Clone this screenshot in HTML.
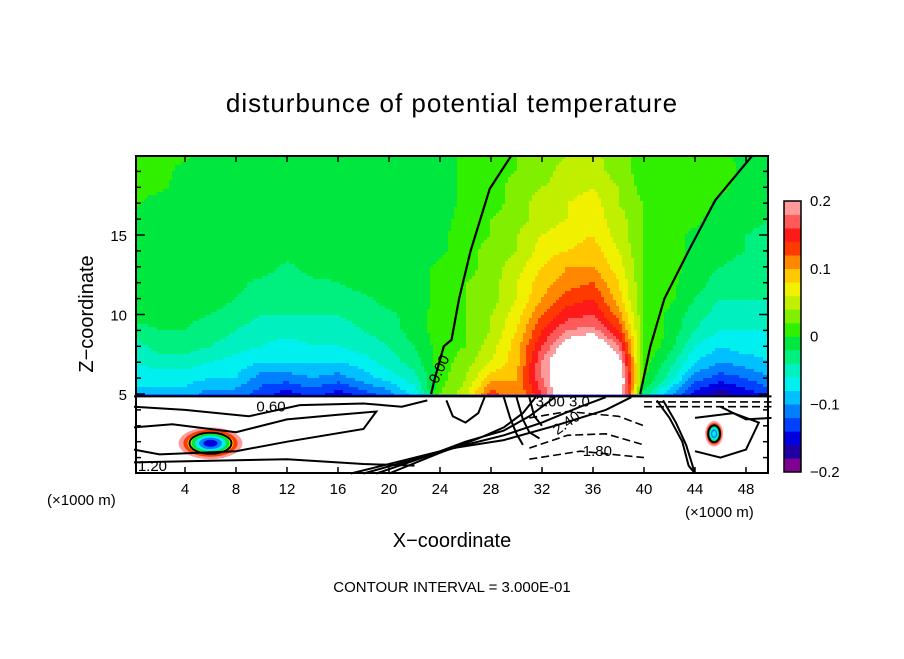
<!DOCTYPE html>
<html><head><meta charset="utf-8"><style>
html,body{margin:0;padding:0;background:#fff;}
body{width:904px;height:654px;overflow:hidden;font-family:"Liberation Sans",sans-serif;}
</style></head><body>
<svg id="chart" width="904" height="654" viewBox="0 0 904 654" xmlns="http://www.w3.org/2000/svg">
<rect x="0" y="0" width="904" height="654" fill="#fff"/>
<text x="452" y="112" text-anchor="middle" font-size="26" font-family="Liberation Sans, sans-serif" letter-spacing="1">disturbunce of potential temperature</text>
<g id="field"></g>
<g id="lower"></g>
<g id="axes"></g>
<g id="cbar"></g>
<text transform="translate(93,314) rotate(-90)" text-anchor="middle" font-size="20">Z−coordinate</text>
<text x="452" y="547" text-anchor="middle" font-size="20">X−coordinate</text>
<text x="47" y="505" font-size="15">(×1000 m)</text>
<text x="685" y="517" font-size="15">(×1000 m)</text>
<text x="452" y="592" text-anchor="middle" font-size="15">CONTOUR INTERVAL = 3.000E-01</text>
</svg>
<script>
// ---- data ----
const xCats = [0,2,4,6,8,10,12,14,16,18,20,22,24,26,28,30,32,34,36,38,40,42,44,46,48,50];
const zLevels = [5,6,7,8,9,10,11,12,13,14,15,16,17,18,19,20];
// values in units of 0.01 K, one array per x column (z=5..20)
const col0  = [-9,-7,-6,-5,-3,-1,-1,-1,-1,-1,-1,-1,0.5,0.5,1,1];
const col2  = [-9,-7,-5,-3,-2,-1,-1,-1,-1,-1,-1,-1,-1,0.5,1,1];
const col4  = [-9,-7,-5,-3,-2,-1.5,-1,-1,-1,-1,-1,-1,-1,-1,-1,0.5];
const col6  = [-11,-8,-6,-4,-3,-2,-1,-1,-1,-1,-1,-1,-1,-1,-1,-1];
const col8  = [-11,-8,-7,-5,-4,-3,-2,-1.5,-1,-1,-1,-1,-1,-1,-1,-1];
const col10 = [-13,-11,-8,-6,-5,-4,-3,-2.5,-1,-1,-1,-1,-1,-1,-1,-1];
const col12 = [-15,-11,-8,-7,-5,-4,-3,-3,-2.5,-1,-1,-1,-1,-1,-1,-1];
const col14 = [-13,-10,-8,-6,-5,-4,-3,-2.5,-1,-1,-1,-1,-1,-1,-1,-1];
const col16 = [-15,-11,-8,-6,-5,-4,-3,-2,-1,-1,-1,-1,-1,-1,-1,-1];
const col18 = [-13,-9,-7,-5,-4,-3,-2.5,-1,-1,-1,-1,-1,-1,-1,-1,-1];
const col20 = [-11,-7,-5,-4,-3,-2.5,-1,-1,-1,-1,-1,-1,-1,-1,-1,-1];
const col22 = [-7,-5,-3,-2,-1,-1,-1,-1,-1,-1,-1,-1,-1,-1,-1,-1];
const col24 = [2,1,1,1,1,1,0.5,0.5,0.5,-0.5,-0.5,-1,-1,-1,-1,-1];
const col26 = [5,4,3,2,2,2,2,2,1,1,1,1,0.5,0.5,0.5,0.5];
const col28 = [13,9,6,5,4,4,3,3,3,3,2,2,1,1,1,1];
const col30 = [10,10,9,9,8,7,6,6,5,4,4,3,3,3,2,2];
const col32 = [16,18,18,16,14,12,10,9,8,7,6,5,5,4,3,3];
const col34 = [25,25,25,22,18,15,13,11,10,8,7,6,6,5,5,4];
const col36 = [25,25,25,24,19,16,14,12,10,9,8,7,7,6,5,4.5];
const col38 = [25,25,22,18,14,11,9,8,7,6,5,5,4,4,3,3];
const col40 = [-3,0.5,1,2,2,2,2,2,2,2,2,2,2,1,1,1];
const col42 = [-9,-5,-3,-1,-0.5,-0.5,0.5,0.5,1,1,1,1,1,1,1,1];
const col44 = [-15,-11,-8,-6,-4,-3,-2,-1,-1,-0.5,-0.5,0.5,1,1,1,1];
const col46 = [-17,-13,-10,-8,-6,-5,-4,-3,-2,-1,-1,-1,-0.5,0.5,1,1];
const col48 = [-15,-12,-9,-7,-6,-5,-4,-3,-3,-2,-2,-1,-1,-1,-0.5,-1];
const col50 = [-13,-10,-8,-7,-6,-5,-4,-3,-3,-3,-3,-2,-2,-1,-1,-1];
const columns = [col0,col2,col4,col6,col8,col10,col12,col14,col16,col18,col20,col22,col24,col26,col28,col30,col32,col34,col36,col38,col40,col42,col44,col46,col48,col50];
const bandColors = ["#800090","#2000a0","#0000e0","#0040ff","#0080ff","#00c0ff","#00f0f0","#00f0c0","#00f080","#00e840","#30f000","#80f000","#c0f000","#f0f000","#ffc800","#ff8800","#ff3a00","#ff1a1a","#ff5a5a","#ff9a9a"];
const cbarTicks = [0.2,0.1,0,-0.1,-0.2];
const cbarTickLabels = ["0.2","0.1","0","−0.1","−0.2"];
const xTicks = [4,8,12,16,20,24,28,32,36,40,44,48];
const yTicks = [5,10,15];
// lower region contour lines (x km, z km)
const lineBoundary = [[0,4.85],[50,4.85]];
const line060 = [[0,2.9],[3,3.1],[8,2.6],[12,3.4],[16,3.7],[19,3.9],[18,2.8],[12,2.0],[8,1.4],[2,1.2],[0,1.5]];
const line060b = [[0,4.2],[4,4.0],[9,3.6],[13,4.3],[18,4.4],[21,4.2],[23,4.6]];
const line120 = [[0,0.7],[6,0.8],[12,0.9],[18,0.6],[22,0.5]];
const lineArc1 = [[17,0],[21,0.8],[25,1.6],[29,2.1],[33,3.0],[37,4.0],[39,4.8]];
const lineArc2 = [[18,0],[22,0.9],[26,1.8],[29,2.4],[32,3.2],[35,4.2],[37,4.8]];
const lineArc3 = [[19,0],[23,1.1],[26,2.0],[29,2.7],[31,3.6],[33,4.8]];
const lineArc4 = [[20,0],[24,1.3],[27,2.2],[29,2.9],[30.5,3.8],[31.5,4.8]];
const lineBunch1 = [[29,4.8],[29.5,3.5],[30,2.5],[30.5,1.8]];
const lineBunch2 = [[30,4.8],[30.5,3.4],[31,2.6],[31.8,2.2]];
const lineBunch3 = [[31,4.8],[31.4,3.6],[32,3.0]];
const lineBunch4 = [[27.5,4.8],[27,3.8],[26,3.2],[25,3.6],[24.5,4.6]];
const lineRight1 = [[41,4.6],[42,3.5],[43,2.0],[43.5,0.5],[44,0]];
const lineRight2 = [[41.5,4.6],[42.5,3.2],[43.3,1.8],[44,0]];
const lineRight3 = [[46,4.2],[48,3.4],[50,3.5]];
const lineRight4 = [[44,3.5],[47,3.8],[49,3.2],[48,1.5],[46,1.0],[44,1.4]];
const dash1 = [[31,1.6],[34,2.4],[37,2.5],[40,1.8]];
const dash2 = [[31,3.5],[34,3.9],[38,3.6],[40,3.0]];
const dash3 = [[40,4.5],[50,4.5]];
const dash4 = [[40,4.2],[50,4.2]];
const dash5 = [[31,0.9],[35,1.4],[40,1.0]];
const contourLines = [lineBoundary,line060,line060b,line120,lineArc1,lineArc2,lineArc3,lineArc4,lineBunch1,lineBunch2,lineBunch3,lineBunch4,lineRight1,lineRight2,lineRight3,lineRight4];
const dashedLines = [dash1,dash2,dash3,dash4,dash5];
const zeroLeft = [[23.3,5],[23.6,6],[24.3,8],[24.9,8.4],[25.5,11],[26.4,14],[27.9,17.9],[29.6,20]];
const zeroRight = [[39.7,5],[40.5,8],[41.6,11],[43.5,14],[45.6,17.2],[48.5,20]];
const blobs = [{x:6,z:1.9,rx:2.5,rz:1.0,v:-16},{x:45.5,z:2.5,rx:0.7,rz:0.8,v:-8}];
const labels = [{t:"1.20",x:0.3,z:0.15},{t:"0.60",x:9.6,z:3.9},{t:"0.00",x:23.8,z:5.6,r:-65},{t:"2.40",x:33.2,z:2.4,r:-35},{t:"1.80",x:35.2,z:1.1},{t:"3.00 3.0",x:31.5,z:4.2}];

// ---- axes ----
const X0=134, KX=12.75, Y0=473.5, KZ=15.9;
const PL=136, PR=768, PT=156, PB=473;
const sx = x => X0 + x*KX;
const sz = z => Y0 - z*KZ;
const NS="http://www.w3.org/2000/svg";
function mk(tag, attrs, parent){const e=document.createElementNS(NS,tag);for(const k in attrs)e.setAttribute(k,attrs[k]);parent.appendChild(e);return e;}
function colorFor(v){ // v in 0.01 units
  const val=v/100;
  if(val>=0.2||val<-0.2) return "#ffffff";
  let i=Math.floor((val+0.2)/0.02); if(i<0)i=0; if(i>19)i=19;
  return bandColors[i];
}
function sample(x,z){
  let fi=x/2; if(fi<0)fi=0; if(fi>xCats.length-1)fi=xCats.length-1;
  let fj=z-5; if(fj<0)fj=0; if(fj>zLevels.length-1)fj=zLevels.length-1;
  const i0=Math.min(Math.floor(fi),xCats.length-2), j0=Math.min(Math.floor(fj),zLevels.length-2);
  const tx=fi-i0, tz=fj-j0;
  const a=columns[i0][j0],b=columns[i0+1][j0],c=columns[i0][j0+1],d=columns[i0+1][j0+1];
  return a*(1-tx)*(1-tz)+b*tx*(1-tz)+c*(1-tx)*tz+d*tx*tz;
}
const field=document.getElementById('field');
const zBase=sz(4.9);
const cell=3;
function drawRun(x0,x1,y,h,c){
  const r=mk('rect',{x:x0,y:y,width:x1-x0+0.5,height:h+0.3,fill:c},field);
  
  
}
for(let py=PT; py<zBase; py+=cell){
  const h=Math.min(cell, zBase-py);
  const zc=(Y0-(py+h/2))/KZ;
  let runStart=PL, runColor=null;
  for(let px=PL; px<PR; px+=cell){
    const xc=(px+cell/2-X0)/KX;
    const col=colorFor(sample(xc,zc));
    if(col!==runColor){
      if(runColor!==null) drawRun(runStart,px,py,h,runColor);
      runStart=px; runColor=col;
    }
  }
  if(runColor!==null) drawRun(runStart,PR,py,h,runColor);
}
// lower region
const lower=document.getElementById('lower');
const surf=mk('line',{x1:PL,y1:zBase,x2:PR,y2:zBase,stroke:"#0000e0","stroke-width":2},lower);


blobs.forEach(b=>{
  const rings=[["#ff9a9a",1],["#ff3a00",0.85],["#f0f000",0.72],["#00e840",0.6],["#00f0f0",0.48],["#0080ff",0.36],[colorFor(b.v),0.22]];
  rings.forEach(r=>{
    const e=mk('ellipse',{cx:sx(b.x),cy:sz(b.z),rx:b.rx*KX*r[1],ry:b.rz*KZ*r[1],fill:r[0]},lower);
    
    
  });
  const o=mk('ellipse',{cx:sx(b.x),cy:sz(b.z),rx:b.rx*KX*0.66,ry:b.rz*KZ*0.66,fill:"none",stroke:"#000","stroke-width":2},lower);
  
  
});
const pts = arr => arr.map(p=>sx(p[0]).toFixed(1)+","+sz(p[1]).toFixed(1)).join(" ");
contourLines.forEach(l=>{
  const e=mk('polyline',{points:pts(l),fill:"none",stroke:"#000","stroke-width":2},lower);
  
  
});
dashedLines.forEach(l=>{
  const e=mk('polyline',{points:pts(l),fill:"none",stroke:"#000","stroke-width":1.6,"stroke-dasharray":"8,4"},lower);
  
  
});
[zeroLeft,zeroRight].forEach(l=>{
  const e=mk('polyline',{points:pts(l),fill:"none",stroke:"#000","stroke-width":2.2},lower);
  
  
});
labels.forEach(lb=>{
  const t=mk('text',{x:sx(lb.x),y:sz(lb.z),"font-size":15,fill:"#000"},lower);
  if(lb.r) t.setAttribute('transform',`rotate(${lb.r} ${sx(lb.x)} ${sz(lb.z)})`);
  t.textContent=lb.t;
  
  
});
// frame and ticks
const axes=document.getElementById('axes');
const fr=mk('rect',{x:PL,y:PT,width:PR-PL,height:PB-PT,fill:"none",stroke:"#000","stroke-width":2},axes);


xTicks.forEach(t=>{
  const x=sx(t);
  mk('line',{x1:x,y1:PB,x2:x,y2:PB-6,stroke:"#000","stroke-width":1.5},axes);
  mk('line',{x1:x,y1:PT,x2:x,y2:PT+6,stroke:"#000","stroke-width":1.5},axes);
  const tl=mk('text',{x:x,y:494,"text-anchor":"middle","font-size":15},axes);
  tl.textContent=t;
  
  
});
for(let z=1; z<20; z++){
  const y=sz(z), len=(z%5===0)?9:5;
  mk('line',{x1:PL,y1:y,x2:PL+len,y2:y,stroke:"#000","stroke-width":1.5},axes);
  mk('line',{x1:PR,y1:y,x2:PR-len,y2:y,stroke:"#000","stroke-width":1.5},axes);
}
yTicks.forEach(t=>{
  const tl=mk('text',{x:127,y:sz(t)+6,"text-anchor":"end","font-size":15},axes);
  tl.textContent=t;
  
  
});
// colorbar
const cbar=document.getElementById('cbar');
const CT=201, CB=472, CL=784, CW=17;
const cy = v => CB - (v+0.2)/0.4*(CB-CT);
bandColors.forEach((c,i)=>{
  const v0=-0.2+i*0.02;
  const r=mk('rect',{x:CL,y:cy(v0+0.02),width:CW,height:cy(v0)-cy(v0+0.02)+0.3,fill:c},cbar);
  
  
});
mk('rect',{x:CL,y:CT,width:CW,height:CB-CT,fill:"none",stroke:"#000","stroke-width":1.5},cbar);
cbarTicks.forEach((v,i)=>{
  const tl=mk('text',{x:810,y:cy(v)+5,"font-size":15},cbar);
  tl.textContent=cbarTickLabels[i];
  
  
});
</script>
</body></html>
